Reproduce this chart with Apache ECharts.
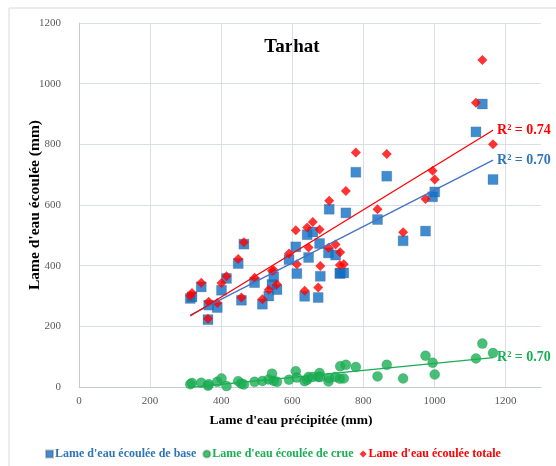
<!DOCTYPE html>
<html>
<head>
<meta charset="utf-8">
<script src="https://cdn.jsdelivr.net/npm/echarts@6/dist/echarts.min.js"></script>
<style>html,body{margin:0;padding:0;background:#fff}#c{width:556px;height:466px}</style>
</head>
<body>
<div id="c"></div>
<script>
// Lame d'eau précipitée (mm)
const precip = [313,318,344,363,365,389,401,415,448,457,464,494,516,534,543,548,557,591,610,613,635,642,646,658,673,677,679,702,704,722,734,735,745,751,779,840,866,912,975,995,1001,1117,1135,1165];
// Lame d'eau écoulée de base (mm)
const base   = [292,297,330,222,270,262,319,358,407,286,471,344,273,300,338,363,321,420,462,374,299,502,427,511,295,473,365,442,586,435,374,376,376,574,708,552,695,482,514,627,643,841,933,684];
// Lame d'eau écoulée de crue (mm)
const crue   = [9,13,14,4,9,17,28,3,19,11,8,17,20,25,44,20,17,24,52,31,19,24,33,33,33,46,33,18,30,33,27,68,28,73,66,35,73,28,103,80,41,94,143,112];
// Lame d'eau écoulée totale (mm)
const total  = [301,310,344,225,281,277,343,365,422,295,477,360,289,321,383,385,338,440,517,405,317,526,460,544,328,519,399,459,614,470,402,444,405,646,773,586,768,510,620,713,684,937,1078,800];

const xTicks = [0,200,400,600,800,1000,1200];
const yTicks = [0,200,400,600,800,1000,1200];
const seriesNames = ["Lame d'eau écoulée de base","Lame d'eau écoulée de crue","Lame d'eau écoulée totale"];
const r2Labels = ["R² = 0.70","R² = 0.70","R² = 0.74"];

function pairs(ys){ return precip.map((x,i)=>[x, ys[i]]); }
function trend(ys){
  const n = precip.length;
  let sx=0, sy=0, sxx=0, sxy=0;
  for(let i=0;i<n;i++){ sx+=precip[i]; sy+=ys[i]; sxx+=precip[i]*precip[i]; sxy+=precip[i]*ys[i]; }
  const b = (n*sxy - sx*sy)/(n*sxx - sx*sx);
  const a = (sy - b*sx)/n;
  const x0 = Math.min(...precip), x1 = Math.max(...precip);
  return [[x0, a+b*x0],[x1, a+b*x1]];
}

const SERIF = "'Liberation Serif','DejaVu Serif',serif";
const cBlue = '#0F6FC6', cGreen = '#1AAF54', cRed = '#FF0000';
const gridCol = '#D9DEE8';
const NONE = 'rgba(0,0,0,0)';

const chart = echarts.init(document.getElementById('c'));
function trendSeries(ys, color, lineColor, label){
  return {
    type:'line', data: trend(ys), showSymbol:false, symbol:'none', silent:true, z:5,
    lineStyle:{color: lineColor, width:1.3},
    endLabel:{show:true, formatter: label, color: color, fontFamily: SERIF, fontWeight:'bold', fontSize:14, distance:4},
    tooltip:{show:false}
  };
}
chart.setOption({
  animation:false,
  graphic:[
    {type:'rect', shape:{x:9, y:8, width:600, height:500}, style:{fill:'none', stroke:'#D9D9D9', lineWidth:1}, silent:true},
    {type:'text', x:292, y:47, style:{text:'Tarhat', fill:'#000', font:"bold 19px "+SERIF, textAlign:'center', textVerticalAlign:'middle'}}
  ],
  grid:{left:79, right:15, top:23, bottom:79, containLabel:false},
  legend:{
    left:40, top:443, itemWidth:7, itemHeight:7, itemGap:6,
    data:[
      {name:seriesNames[0], icon:'rect', textStyle:{color:'#2E75B6'}},
      {name:seriesNames[1], icon:'circle', textStyle:{color:cGreen}},
      {name:seriesNames[2], icon:'diamond', textStyle:{color:cRed}}
    ],
    textStyle:{fontFamily:SERIF, fontWeight:'bold', fontSize:12, padding:[0,0,0,-3]}
  },
  xAxis:{
    type:'value', min:0, max:1300, interval:200,
    name:"Lame d'eau précipitée (mm)", nameLocation:'middle', nameGap:27, nameMoveOverlap:false,
    nameTextStyle:{fontFamily:SERIF, fontWeight:'bold', fontSize:13.5, color:'#000', padding:[0,38,0,0]},
    axisLine:{show:true, lineStyle:{color:'#C5CCD8'}}, axisTick:{show:false},
    axisLabel:{fontFamily:SERIF, fontSize:11, color:'#595959', margin:9, showMaxLabel:false,
      formatter:(v)=> xTicks.includes(v) ? String(v) : ''},
    splitLine:{show:true, lineStyle:{color:[gridCol,gridCol,gridCol,gridCol,gridCol,gridCol,gridCol,NONE]}}
  },
  yAxis:{
    type:'value', min:0, max:1200, interval:200,
    name:"Lame d'eau écoulée (mm)", nameLocation:'middle', nameGap:36, nameRotate:90, nameMoveOverlap:false,
    nameTextStyle:{fontFamily:SERIF, fontWeight:'bold', fontSize:15.5, color:'#000'},
    axisLine:{show:true, lineStyle:{color:'#C5CCD8'}}, axisTick:{show:false},
    axisLabel:{fontFamily:SERIF, fontSize:11, color:'#595959', margin:18,
      formatter:(v)=> yTicks.includes(v) ? String(v) : ''},
    splitLine:{show:true, lineStyle:{color:gridCol}}
  },
  series:[
    {name:seriesNames[0], type:'scatter', data:pairs(base), symbol:'rect', symbolSize:10, z:2,
      itemStyle:{color:cBlue, borderColor:'rgba(80,90,110,0.5)', borderWidth:0.6}},
    {name:seriesNames[1], type:'scatter', data:pairs(crue), symbol:'circle', symbolSize:10, z:2,
      itemStyle:{color:cGreen, borderColor:'rgba(0,110,40,0.4)', borderWidth:0.6}},
    {name:seriesNames[2], type:'scatter', data:pairs(total), symbol:'diamond', symbolSize:10, z:3,
      itemStyle:{color:cRed}},
    trendSeries(base, '#2E75B6', '#4472C4', r2Labels[0]),
    trendSeries(crue, '#1AAF54', '#1AAF54', r2Labels[1]),
    trendSeries(total, cRed, cRed, r2Labels[2])
  ]
});
</script>
</body>
</html>
